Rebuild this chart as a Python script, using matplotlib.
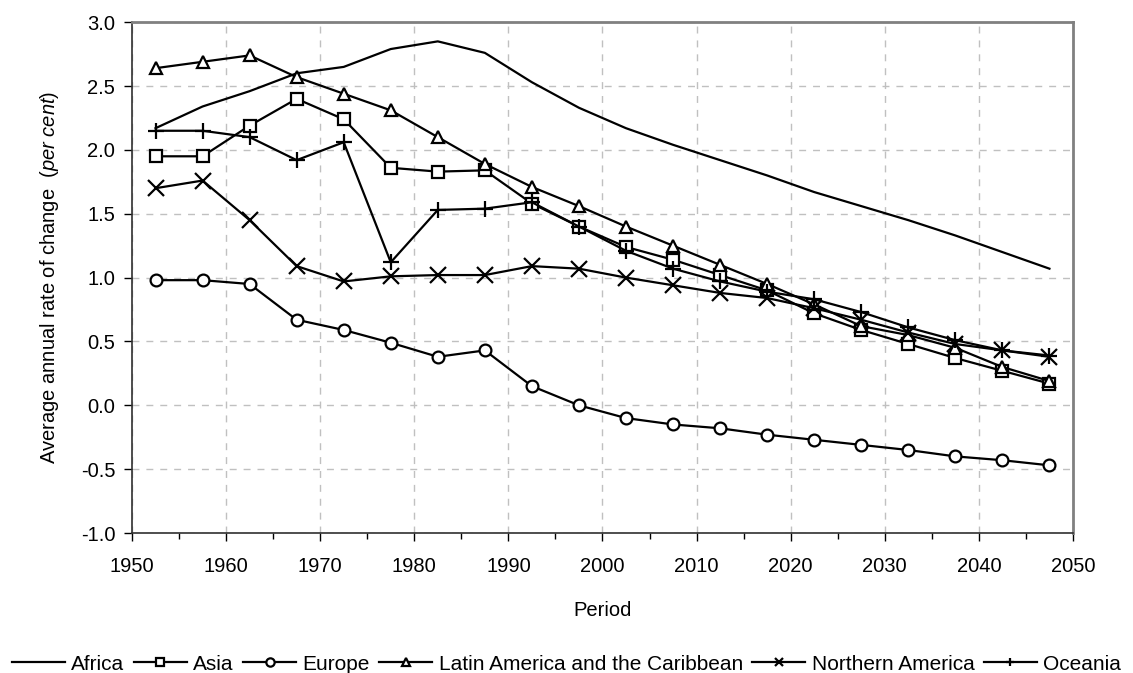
import numpy as np
import matplotlib
matplotlib.use("Agg")
from matplotlib import pyplot as plt
from matplotlib.ticker import MultipleLocator, FormatStrFormatter

plt.rcParams['font.family'] = ['Liberation Sans', 'DejaVu Sans']
plt.rcParams['mathtext.fontset'] = 'custom'
plt.rcParams['mathtext.rm'] = 'Liberation Sans'
plt.rcParams['mathtext.it'] = 'Liberation Sans:italic'

# mid-points of the five-year periods 1950-1955 ... 2045-2050
periods = [1952.5, 1957.5, 1962.5, 1967.5, 1972.5, 1977.5, 1982.5, 1987.5, 1992.5, 1997.5,
           2002.5, 2007.5, 2012.5, 2017.5, 2022.5, 2027.5, 2032.5, 2037.5, 2042.5, 2047.5]

africa = [2.17, 2.34, 2.46, 2.60, 2.65, 2.79, 2.85, 2.76, 2.53, 2.33,
          2.17, 2.04, 1.92, 1.80, 1.67, 1.56, 1.45, 1.33, 1.20, 1.07]
asia = [1.95, 1.95, 2.19, 2.40, 2.24, 1.86, 1.83, 1.84, 1.58, 1.40,
        1.24, 1.14, 1.02, 0.90, 0.72, 0.59, 0.48, 0.37, 0.27, 0.17]
europe = [0.98, 0.98, 0.95, 0.67, 0.59, 0.49, 0.38, 0.43, 0.15, 0.00,
          -0.10, -0.15, -0.18, -0.23, -0.27, -0.31, -0.35, -0.40, -0.43, -0.47]
latin_america = [2.64, 2.69, 2.74, 2.57, 2.44, 2.31, 2.10, 1.89, 1.71, 1.56,
                 1.40, 1.25, 1.10, 0.95, 0.79, 0.62, 0.55, 0.45, 0.30, 0.19]
northern_america = [1.70, 1.76, 1.45, 1.09, 0.97, 1.01, 1.02, 1.02, 1.09, 1.07,
                    1.00, 0.94, 0.88, 0.84, 0.76, 0.67, 0.57, 0.48, 0.43, 0.38]
oceania = [2.15, 2.15, 2.10, 1.92, 2.06, 1.12, 1.53, 1.54, 1.59, 1.40,
           1.21, 1.07, 0.97, 0.89, 0.83, 0.73, 0.61, 0.51, 0.43, 0.39]

series = [
    ('Africa', africa, 'None'),
    ('Asia', asia, 's'),
    ('Europe', europe, 'o'),
    ('Latin America and the Caribbean', latin_america, '^'),
    ('Northern America', northern_america, 'x'),
    ('Oceania', oceania, '+'),
]

fig = plt.figure(figsize=(11.33, 6.73), dpi=100)
ax = fig.add_axes([0.1165, 0.208, 0.8305, 0.759])

for name, values, marker in series:
    big = 11 if marker in ('x', '+') else 8.5
    ax.plot(periods, values, color='black', linewidth=1.6, marker=marker,
            markersize=big, markerfacecolor='white', markeredgecolor='black',
            markeredgewidth=1.6, label=name)

ax.set_xlim(1950, 2050)
ax.set_ylim(-1.0, 3.0)
ax.xaxis.set_major_locator(MultipleLocator(10))
ax.xaxis.set_minor_locator(MultipleLocator(5))
ax.yaxis.set_major_locator(MultipleLocator(0.5))
ax.yaxis.set_major_formatter(FormatStrFormatter('%.1f'))
ax.tick_params(axis='both', which='major', labelsize=14.5, direction='out', length=6, width=1)
ax.tick_params(axis='x', which='minor', direction='out', length=4, width=1)
ax.tick_params(axis='x', pad=11)
ax.tick_params(axis='y', pad=6)

# Dashed gridlines
ax.grid(True, which='major', color='#c0c0c0', linestyle=(0, (5, 5)), linewidth=1)
ax.set_axisbelow(True)

for s in ['top', 'right']:
    ax.spines[s].set_color('#808080')
    ax.spines[s].set_linewidth(2)
for s in ['left', 'bottom']:
    ax.spines[s].set_color('#303030')
    ax.spines[s].set_linewidth(1.2)

ax.set_xlabel('Period', fontsize=14.5, labelpad=18)
ax.set_ylabel(r'Average annual rate of change  $\it{(per\ cent)}$', fontsize=14.5, labelpad=14)

leg = fig.legend(loc='center', bbox_to_anchor=(0.5, 0.013), ncol=6, frameon=False,
                 fontsize=15, handlelength=2.55, handletextpad=0.3, columnspacing=0.45,
                 borderaxespad=0)
for h in leg.legend_handles:
    h.set_markersize(6)

fig.savefig('out.png', dpi=100)
